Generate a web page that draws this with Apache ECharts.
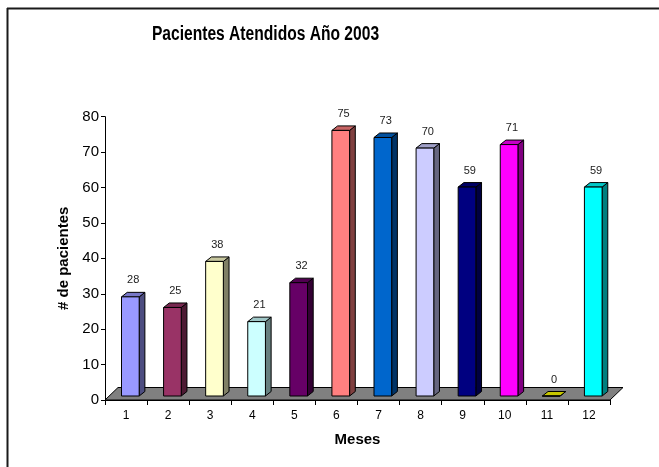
<!DOCTYPE html>
<html>
<head>
<meta charset="utf-8">
<script src="https://cdn.jsdelivr.net/npm/echarts@6/dist/echarts.min.js"></script>
<style>
  html, body { margin: 0; padding: 0; background: #fff; }
  #chart { width: 659px; height: 467px; }
</style>
</head>
<body>
<div id="chart"></div>
<script>
// Monthly patient counts for 2003
const months = ['1', '2', '3', '4', '5', '6', '7', '8', '9', '10', '11', '12'];
const pacientes = [28, 25, 38, 21, 32, 75, 73, 70, 59, 71, 0, 59];

// One fill per month (classic spreadsheet palette)
const barColors = ['#9999FF', '#993366', '#FFFFCC', '#CCFFFF', '#660066', '#FF8080',
                   '#0066CC', '#CCCCFF', '#000080', '#FF00FF', '#FFFF00', '#00FFFF'];

function shade(hex, f) {
  const n = parseInt(hex.slice(1), 16);
  const r = Math.round(((n >> 16) & 255) * f);
  const g = Math.round(((n >> 8) & 255) * f);
  const b = Math.round((n & 255) * f);
  return 'rgb(' + r + ',' + g + ',' + b + ')';
}

// Floor depth and bar depth (pseudo 3-D)
const FLOOR_DX = 13, FLOOR_DY = -12.5;
const BAR_OX = 4.3, BAR_OY = -4;
const BAR_DX = 5.7, BAR_DY = -4.5;

function renderFloor(params, api) {
  const cs = params.coordSys;
  const yb = cs.y + cs.height;
  return {
    type: 'polygon',
    shape: { points: [[cs.x, yb], [cs.x + cs.width, yb],
                      [cs.x + cs.width + FLOOR_DX, yb + FLOOR_DY], [cs.x + FLOOR_DX, yb + FLOOR_DY]] },
    style: { fill: '#808080', stroke: '#000', lineWidth: 1 }
  };
}

function renderBar(params, api) {
  const i = api.value(0);
  const v = api.value(1);
  const base = api.coord([i, 0]);
  const top = api.coord([i, v]);
  const band = api.size([1, 0])[0];
  const w = band * 0.42;
  const x0 = base[0] - w / 2 + BAR_OX;
  const x1 = x0 + w;
  const yb = base[1] + BAR_OY;
  const yt = top[1] + BAR_OY;
  const c = barColors[params.dataIndex % barColors.length];
  const line = { stroke: '#000', lineWidth: 1 };
  return {
    type: 'group',
    children: [
      { type: 'polygon', shape: { points: [[x1, yb], [x1 + BAR_DX, yb + BAR_DY], [x1 + BAR_DX, yt + BAR_DY], [x1, yt]] },
        style: Object.assign({ fill: shade(c, 0.5) }, line) },
      { type: 'polygon', shape: { points: [[x0, yt], [x1, yt], [x1 + BAR_DX, yt + BAR_DY], [x0 + BAR_DX, yt + BAR_DY]] },
        style: Object.assign({ fill: shade(c, 0.78) }, line) },
      { type: 'polygon', shape: { points: [[x0, yb], [x1, yb], [x1, yt], [x0, yt]] },
        style: Object.assign({ fill: c }, line) },
      { type: 'text',
        style: { text: String(v), x: x0 + (w + BAR_DX) / 2, y: yt + BAR_DY - 12,
                 align: 'center', verticalAlign: 'middle',
                 fontFamily: 'Liberation Sans, Arial, sans-serif', fontSize: 11, fill: '#222' } }
    ]
  };
}

const chart = echarts.init(document.getElementById('chart'), null, { renderer: 'canvas' });
chart.setOption({
  animation: false,
  backgroundColor: '#fff',
  grid: { left: 105, right: 49, top: 116.7, bottom: 67, containLabel: false },
  xAxis: {
    type: 'category',
    data: months,
    name: 'Meses', nameLocation: 'middle', nameGap: 32,
    nameTextStyle: { fontFamily: 'Liberation Sans, Arial, sans-serif', fontWeight: 'bold', fontSize: 15, color: '#000' },
    axisLine: { lineStyle: { color: '#000', width: 1 } },
    axisTick: { show: true, length: 5, lineStyle: { color: '#000' } },
    axisLabel: { margin: 10, fontFamily: 'Liberation Sans, Arial, sans-serif', fontSize: 12, color: '#000' }
  },
  yAxis: {
    type: 'value', min: 0, max: 80, interval: 10,
    name: '# de pacientes', nameLocation: 'middle', nameGap: 28, nameRotate: 90,
    nameTextStyle: { fontFamily: 'Liberation Sans, Arial, sans-serif', fontWeight: 'bold', fontSize: 15, color: '#000' },
    axisLine: { show: true, lineStyle: { color: '#000', width: 1 } },
    axisTick: { show: true, length: 4, lineStyle: { color: '#000' } },
    axisLabel: { margin: 6, fontFamily: 'Liberation Sans, Arial, sans-serif', fontSize: 15, color: '#000' },
    splitLine: { show: false }
  },
  series: [
    { type: 'custom', renderItem: renderFloor, data: [[0, 0]], z: 1, silent: true },
    { type: 'custom', renderItem: renderBar, data: months.map((m, i) => [i, pacientes[i]]), z: 2 }
  ],
  graphic: [
    // condensed bold title
    { type: 'text', x: 265.5, y: 34.5, scaleX: 0.78, z: 10,
      style: { text: 'Pacientes Atendidos Año 2003', align: 'center', verticalAlign: 'middle',
               fontFamily: 'Liberation Sans, Arial, sans-serif', fontWeight: 'bold', fontSize: 20, fill: '#000' } },
    // frame
    { type: 'line', shape: { x1: 7, y1: 8.5, x2: 659, y2: 8.5 }, style: { stroke: '#1a1a1a', lineWidth: 2 }, z: 10 },
    { type: 'line', shape: { x1: 7.5, y1: 8, x2: 7.5, y2: 467 }, style: { stroke: '#1a1a1a', lineWidth: 2 }, z: 10 }
  ]
});
</script>
</body>
</html>
